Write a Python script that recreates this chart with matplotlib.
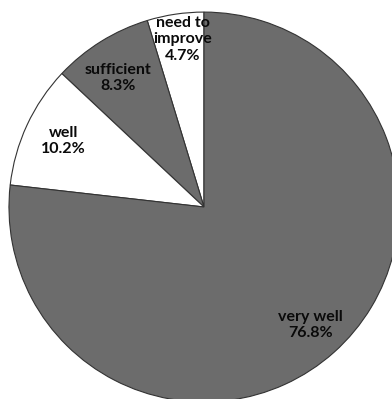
import matplotlib
matplotlib.use('Agg')
import matplotlib.pyplot as plt

labels = ['need to\nimprove', 'sufficient', 'well', 'very well']
values = [4.7, 8.3, 10.2, 76.8]
colors = ['white', '#6c6c6c', 'white', '#6c6c6c']

# label anchor positions (axes data coords, pie radius = 1)
label_pos = [(-0.11, 0.86), (-0.44, 0.66), (-0.72, 0.34), (0.545, -0.605)]

fig = plt.figure(figsize=(3.92, 3.99), dpi=100)
ax = fig.add_axes([0, 0, 1, 1])

wedges, _ = ax.pie(values, colors=colors, startangle=90, counterclock=True,
                   radius=1.0, center=(0, 0),
                   wedgeprops=dict(edgecolor='#333333', linewidth=0.8))

for lab, v, (x, y) in zip(labels, values, label_pos):
    ax.text(x, y, f'{lab}\n{v:.1f}%', ha='center', va='center',
            fontsize=11.5, fontweight='bold', family='Lato',
            color='#0a0a0a', linespacing=1.2)

ax.set_xlim(-1.046, 0.964)
ax.set_ylim(-0.985, 1.062)
ax.set_aspect('auto')
ax.axis('off')

fig.savefig('out.png', dpi=100, facecolor='white')
